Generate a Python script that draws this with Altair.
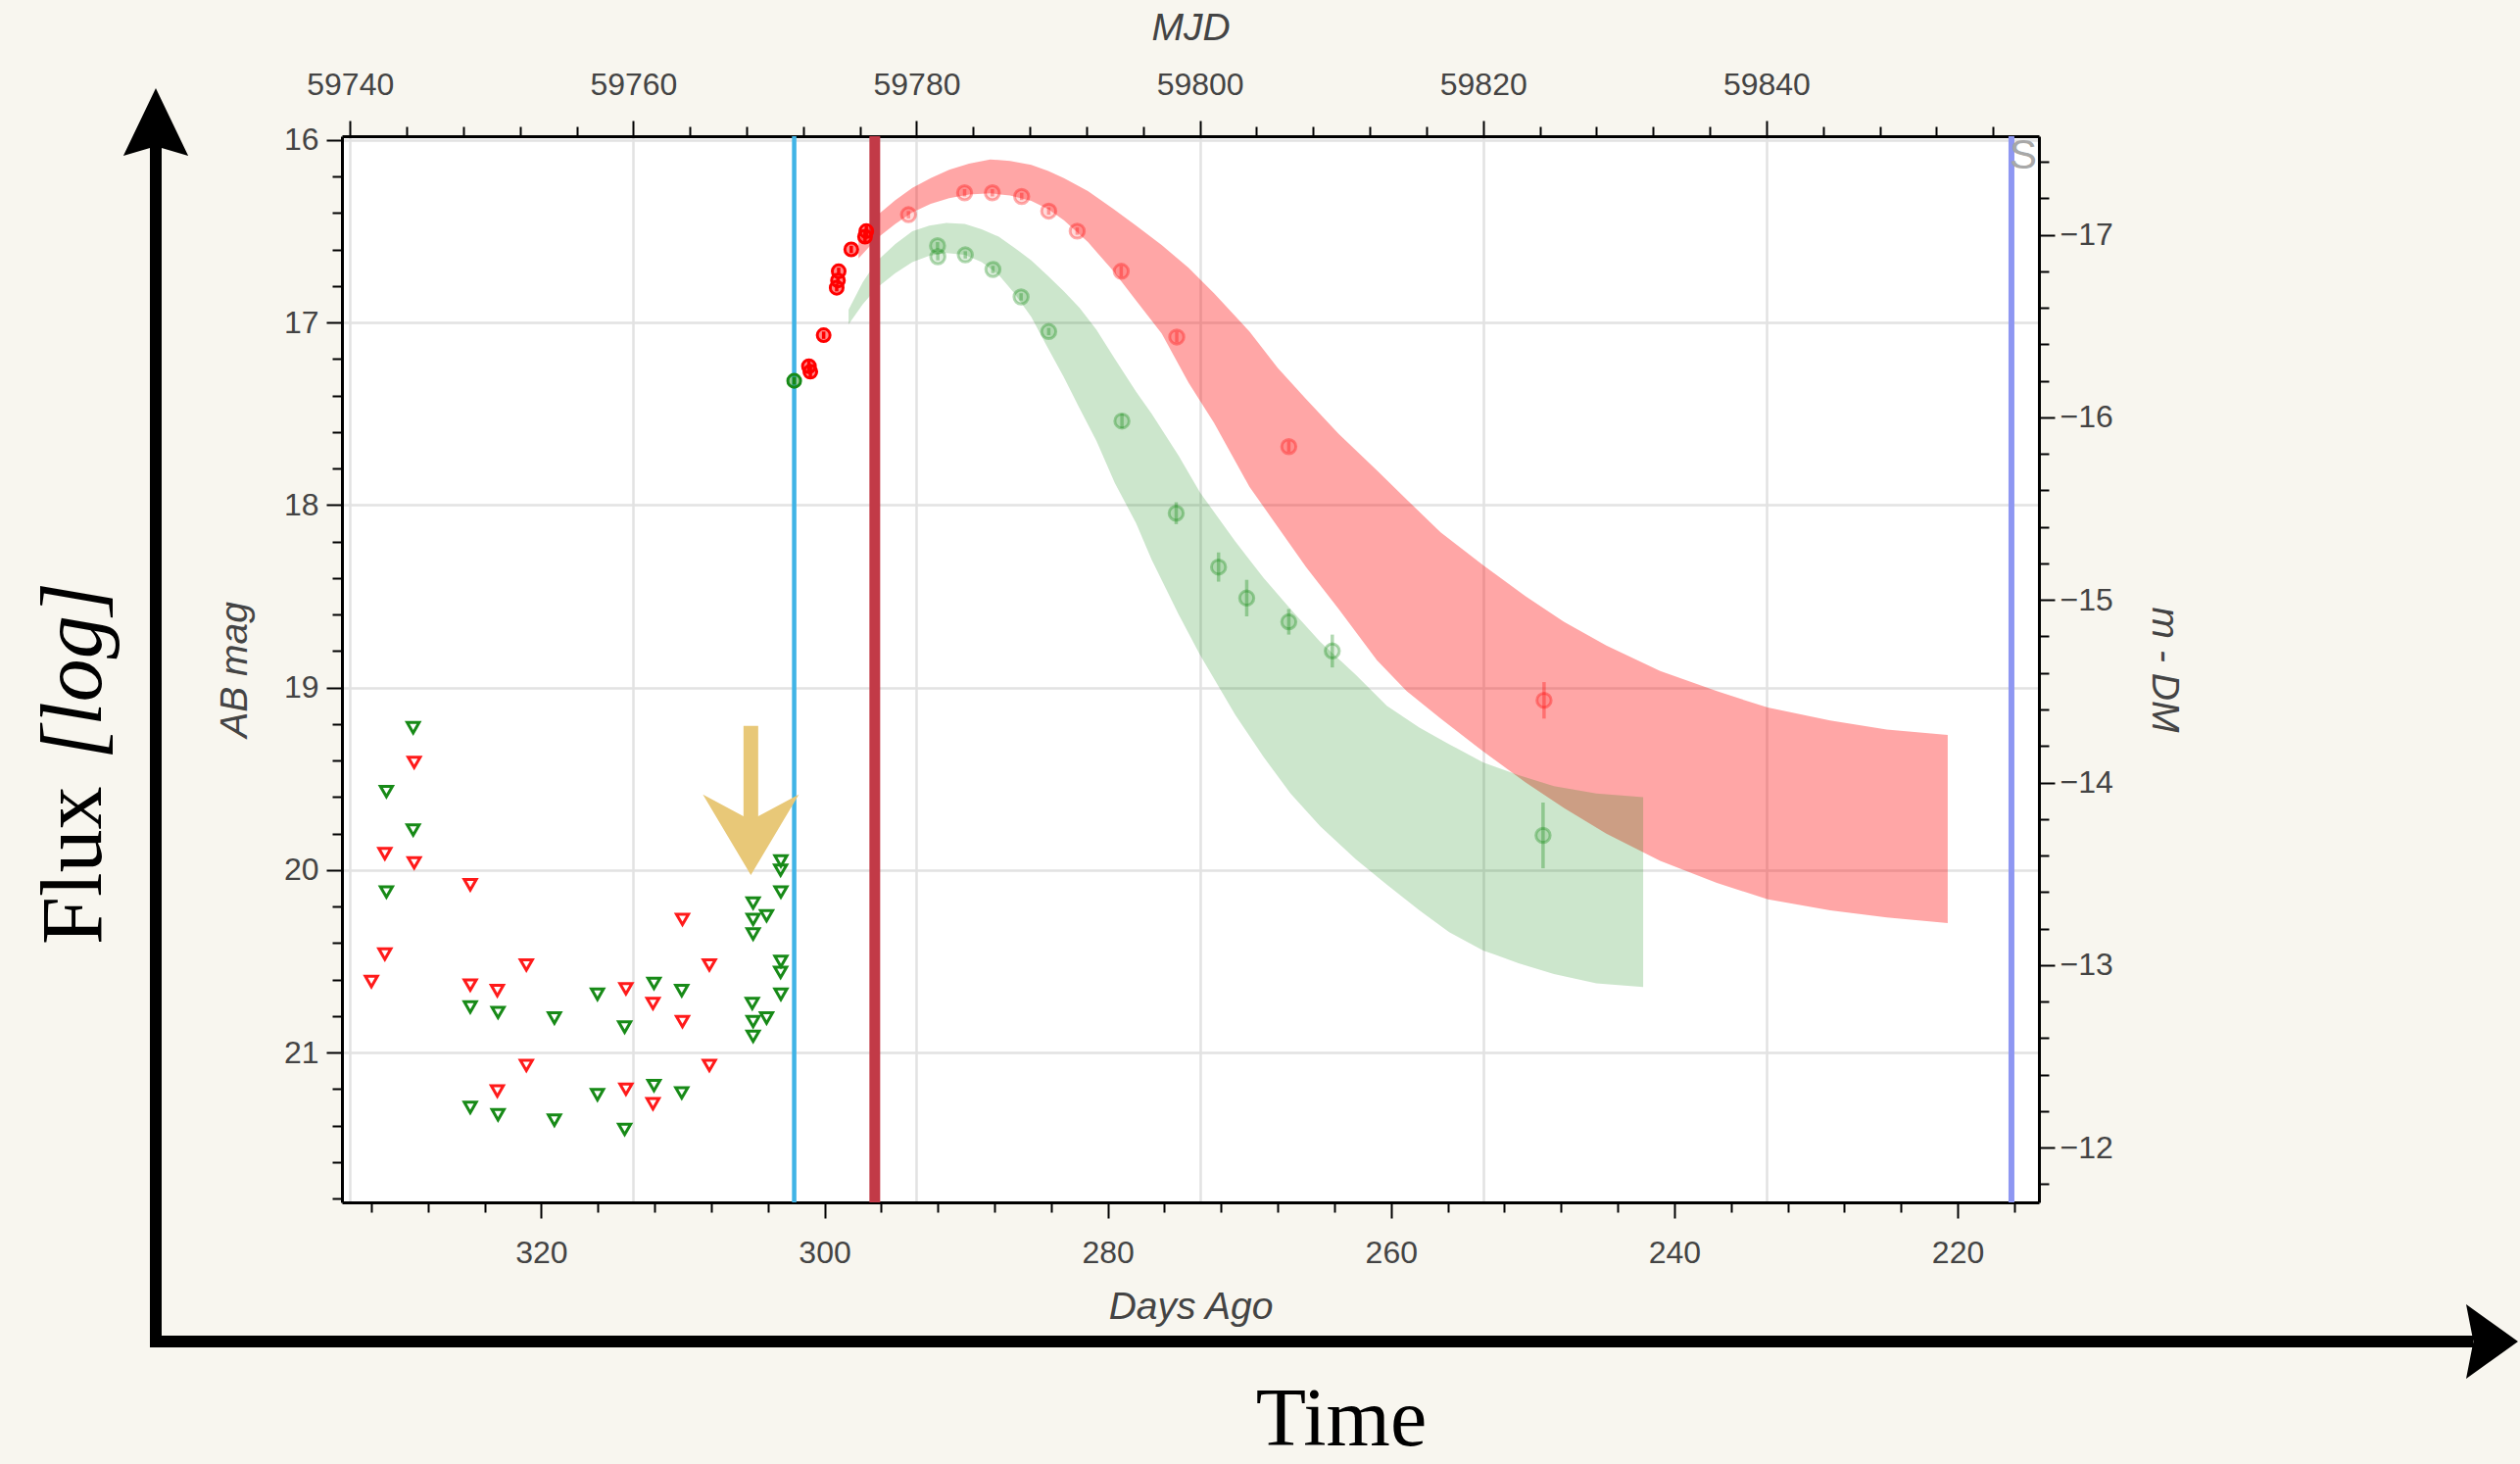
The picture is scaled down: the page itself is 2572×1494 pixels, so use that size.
import altair as alt
import pandas as pd

# ---------------- data ----------------
# upper limits (non-detections): days ago / AB mag
lim_r_days = [328.97, 331.04, 328.97, 325.01, 310.03, 331.04, 321.05, 308.13, 331.99, 325.01,
              323.10, 314.02, 312.11, 310.03, 321.05, 308.13, 323.10, 314.02, 312.11]
lim_r_mag = [19.41, 19.91, 19.96, 20.08, 20.27, 20.46, 20.52, 20.52, 20.61, 20.63,
             20.66, 20.65, 20.73, 20.83, 21.07, 21.07, 21.21, 21.20, 21.28]

lim_g_days = [329.04, 330.93, 329.04, 330.93, 325.01, 323.05, 319.07, 316.03, 314.11, 312.04,
              310.08, 305.04, 305.04, 304.09, 305.04, 303.08, 303.10, 303.08, 305.10, 305.04,
              304.09, 305.04, 303.08, 303.10, 303.08, 325.01, 323.05, 319.07, 316.03, 314.11,
              312.04, 310.08]
lim_g_mag = [19.22, 19.57, 19.78, 20.12, 20.75, 20.78, 20.81, 20.68, 20.86, 20.62,
             20.66, 20.18, 20.27, 20.25, 20.35, 19.95, 20.00, 20.12, 20.73, 20.83,
             20.81, 20.91, 20.50, 20.56, 20.68, 21.30, 21.34, 21.37, 21.23, 21.42,
             21.18, 21.22]

# detections
det_r_days = [301.10, 301.00, 300.06, 299.14, 299.05, 299.00, 298.11, 297.14, 297.05]
det_r_mag = [17.24, 17.27, 17.07, 16.81, 16.77, 16.72, 16.60, 16.53, 16.50]
det_r_err = [0.03, 0.03, 0.02, 0.02, 0.02, 0.02, 0.02, 0.03, 0.03]

late_r_days = [294.07, 290.11, 288.15, 286.08, 284.17, 282.16, 279.05, 275.13, 267.22, 249.20]
late_r_mag = [16.41, 16.29, 16.29, 16.31, 16.39, 16.50, 16.72, 17.08, 17.68, 19.07]
late_r_err = [0.02, 0.02, 0.02, 0.02, 0.02, 0.02, 0.03, 0.03, 0.03, 0.10]

det_g_days = [302.14]
det_g_mag = [17.32]
det_g_err = [0.02]

late_g_days = [292.02, 292.00, 290.06, 288.11, 286.12, 284.17, 279.00, 275.17, 272.18, 270.19,
               267.22, 264.15, 249.27]
late_g_mag = [16.58, 16.64, 16.63, 16.71, 16.86, 17.05, 17.54, 18.045, 18.34, 18.51,
              18.64, 18.80, 19.81]
late_g_err = [0.02, 0.02, 0.02, 0.02, 0.02, 0.02, 0.04, 0.06, 0.08, 0.10,
              0.07, 0.09, 0.18]

# model bands (top edge / bottom edge in mag)
band_r_days = [297.6, 296.3, 295.0, 293.8, 292.5, 291.2, 289.8, 288.3, 286.9, 285.4,
               284.2, 283.1, 281.4, 279.6, 278.0, 276.2, 274.3, 272.5, 270.0, 268.0,
               266.0, 263.7, 261.0, 258.9, 256.5, 253.5, 250.5, 247.8, 244.8, 241.0,
               237.0, 233.4, 229.0, 225.0, 220.7]
band_r_top = [16.55, 16.415, 16.33, 16.263, 16.21, 16.164, 16.13, 16.107, 16.115, 16.137,
              16.17, 16.21, 16.28, 16.379, 16.47, 16.576, 16.70, 16.84, 17.05, 17.25,
              17.42, 17.61, 17.81, 17.97, 18.15, 18.33, 18.50, 18.64, 18.77, 18.91,
              19.02, 19.11, 19.18, 19.23, 19.26]
band_r_bot = [16.65, 16.54, 16.46, 16.397, 16.35, 16.32, 16.30, 16.293, 16.305, 16.334,
              16.38, 16.44, 16.56, 16.72, 16.88, 17.06, 17.33, 17.55, 17.90, 18.12,
              18.34, 18.57, 18.85, 19.02, 19.17, 19.35, 19.52, 19.66, 19.80, 19.95,
              20.07, 20.16, 20.22, 20.26, 20.29]

band_g_days = [298.3, 297.3, 296.3, 295.0, 293.8, 292.6, 291.4, 290.1, 288.9, 287.7,
               286.6, 285.4, 284.3, 283.1, 282.0, 280.8, 279.5, 278.0, 276.9, 275.0,
               273.5, 271.0, 269.0, 267.1, 265.0, 262.5, 260.3, 258.0, 255.9, 253.5,
               251.0, 248.5, 245.5, 242.2]
band_g_top = [16.93, 16.78, 16.665, 16.57, 16.50, 16.47, 16.455, 16.46, 16.49, 16.53,
              16.59, 16.66, 16.74, 16.83, 16.92, 17.04, 17.20, 17.38, 17.50, 17.73,
              17.93, 18.20, 18.40, 18.57, 18.75, 18.93, 19.10, 19.22, 19.31, 19.41,
              19.48, 19.54, 19.58, 19.60]
band_g_bot = [17.01, 16.90, 16.81, 16.73, 16.67, 16.635, 16.62, 16.63, 16.67, 16.74,
              16.84, 16.97, 17.13, 17.30, 17.47, 17.65, 17.88, 18.10, 18.30, 18.60,
              18.82, 19.15, 19.38, 19.58, 19.76, 19.94, 20.08, 20.22, 20.34, 20.44,
              20.51, 20.57, 20.62, 20.64]

# event markers (days ago)
first_det_day = [302.14]
peak_day = [296.45]
spec_day = [216.2]

# axis ticks
bottom_ticks = list(range(332, 214, -4))
top_ticks = list(range(59740, 59860, 4))
left_ticks = [round(16 + 0.2 * i, 1) for i in range(30)]
right_ticks = [round(-17.4 + 0.2 * i, 1) for i in range(29)]

DAYS_DOMAIN = [334.07, 214.26]
MAG_DOMAIN = [15.98, 21.82]
MJD_ZERO = 60073.5   # MJD = MJD_ZERO - days ago
DIST_MOD = 33.52

# ---------------- layout ----------------
W, H = 1732, 1088
PAD = {"left": 349, "top": 139, "right": 2572 - 349 - W, "bottom": 1494 - 139 - H}
BG = "#F8F6EF"
LAB = "#444444"

xsc = alt.Scale(domain=DAYS_DOMAIN, nice=False, zero=False)
ysc = alt.Scale(domain=MAG_DOMAIN, nice=False, zero=False, reverse=True)

common = dict(domainColor="black", domainWidth=3, tickColor="black", tickWidth=2,
              labelColor=LAB, labelFont="Liberation Sans", labelFontSize=32,
              titleFont="Liberation Sans", titleFontSize=39, titleFontStyle="italic",
              titleFontWeight="normal", titleColor=LAB, labelOverlap=False,
              labelFlush=False, gridColor="#E2E2E2", gridWidth=2.5, tickCount=400)

INT_TEST = "abs(datum.value - round(datum.value)) < 0.001"

ax_bottom = alt.Axis(orient="bottom", title="Days Ago", values=bottom_ticks, format="d",
                     labelExpr="datum.value % 20 === 0 ? datum.label : ''",
                     tickSize={"condition": {"test": "datum.value % 20 === 0", "value": 16}, "value": 10},
                     labelPadding=20, titlePadding=20, grid=False, **common)
ax_left = alt.Axis(orient="left", title="AB mag", values=left_ticks, tickMinStep=0.1,
                   labelExpr=f"{INT_TEST} ? format(datum.value, 'd') : ''",
                   tickSize={"condition": {"test": INT_TEST, "value": 16}, "value": 10},
                   gridOpacity={"condition": {"test": INT_TEST, "value": 1}, "value": 0},
                   labelPadding=8, titlePadding=30, grid=True, **common)
ax_top = alt.Axis(orient="top", title="MJD", values=top_ticks, format="d",
                  labelExpr="datum.value % 20 === 0 ? datum.label : ''",
                  tickSize={"condition": {"test": "datum.value % 20 === 0", "value": 16}, "value": 10},
                  gridOpacity={"condition": {"test": "datum.value % 20 === 0", "value": 1}, "value": 0},
                  labelPadding=20, titlePadding=22, grid=True, **common)
ax_right = alt.Axis(orient="right", title="m - DM", values=right_ticks, tickMinStep=0.1,
                    labelExpr=f"{INT_TEST} ? format(datum.value, 'd') : ''",
                    tickSize={"condition": {"test": INT_TEST, "value": 16}, "value": 10},
                    labelPadding=5, titlePadding=32, grid=False, **common)


def X(field):
    return alt.X(field, type="quantitative", scale=xsc, axis=ax_bottom)


def Y(field):
    return alt.Y(field, type="quantitative", scale=ysc, axis=ax_left)


def pts(days, mag, err=None):
    d = pd.DataFrame({"days": days, "mag": mag})
    if err is not None:
        d["lo"] = [m - e for m, e in zip(mag, err)]
        d["hi"] = [m + e for m, e in zip(mag, err)]
    return d


band_r = pd.DataFrame({"days": band_r_days, "top": band_r_top, "bot": band_r_bot})
band_g = pd.DataFrame({"days": band_g_days, "top": band_g_top, "bot": band_g_bot})

layers = []
# bands
layers.append(alt.Chart(band_r).mark_area(color="#FF0000", opacity=0.35).encode(
    x=X("days"), y=Y("top"), y2="bot"))
layers.append(alt.Chart(band_g).mark_area(color="#008000", opacity=0.2).encode(
    x=X("days"), y=Y("top"), y2="bot"))

# vertical event lines
for days, col, w in [(first_det_day, "#41B4E6", 4.5), (peak_day, "#C23A47", 11), (spec_day, "#8E97F2", 6)]:
    layers.append(alt.Chart(pd.DataFrame({"days": days})).mark_rule(color=col, strokeWidth=w).encode(
        x=X("days")))

# "S" label
layers.append(alt.Chart(pd.DataFrame({"days": spec_day, "mag": [16.09], "t": ["S"]})).mark_text(
    align="left", baseline="middle", font="Liberation Sans", fontSize=42, color="#A8A8A8", dx=-2).encode(
    x=X("days"), y=Y("mag"), text="t:N"))

# upper limits
layers.append(alt.Chart(pts(lim_r_days, lim_r_mag)).mark_point(
    shape="triangle-down", filled=False, color="#FF1A1A", strokeWidth=3, size=150, opacity=1).encode(
    x=X("days"), y=Y("mag")))
layers.append(alt.Chart(pts(lim_g_days, lim_g_mag)).mark_point(
    shape="triangle-down", filled=False, color="#178A17", strokeWidth=3, size=150, opacity=1).encode(
    x=X("days"), y=Y("mag")))

# detections: error bars + markers
for days, mag, err, col, op, sz in [
    (late_r_days, late_r_mag, late_r_err, "#FF0000", 0.32, 210),
    (late_g_days, late_g_mag, late_g_err, "#008000", 0.3, 210),
    (det_r_days, det_r_mag, det_r_err, "#FF0000", 1.0, 170),
    (det_g_days, det_g_mag, det_g_err, "#178A17", 1.0, 170),
]:
    d = pts(days, mag, err)
    layers.append(alt.Chart(d).mark_rule(color=col, strokeWidth=3.5, opacity=op).encode(
        x=X("days"), y=Y("lo"), y2="hi"))
    layers.append(alt.Chart(d).mark_point(
        shape="circle", fill=col, fillOpacity=0.45 * op, stroke=col, strokeOpacity=op,
        strokeWidth=3, size=sz).encode(x=X("days"), y=Y("mag")))

# hand-drawn gold arrow pointing at the last non-detection
gold = "#E8C878"
layers.append(alt.Chart(pd.DataFrame({"days": [305.2], "a": [19.21], "b": [19.75]})).mark_rule(
    color=gold, strokeWidth=15).encode(x=X("days"), y=Y("a"), y2="b"))
layers.append(alt.Chart(pd.DataFrame({"days": [305.2], "mag": [19.806]})).mark_point(
    shape="M-1,-0.84 L0,0.84 L1,-0.84 L0,-0.3 Z", filled=True, color=gold, opacity=1, size=9604).encode(
    x=X("days"), y=Y("mag")))

# big schematic axes (Flux vs Time) drawn outside the plot area
one = pd.DataFrame({"k": [0]})
layers.append(alt.Chart(one).mark_rule(color="black", strokeWidth=12).encode(
    x=alt.value(-190), y=alt.value(1236), y2=alt.value(10)))
layers.append(alt.Chart(one).mark_rule(color="black", strokeWidth=12).encode(
    x=alt.value(-196), x2=alt.value(2175), y=alt.value(1230)))
layers.append(alt.Chart(one).mark_point(
    shape="M0,-1 L0.96,1 L0,0.72 L-0.96,1 Z", filled=True, color="black", opacity=1, size=4761).encode(
    x=alt.value(-190), y=alt.value(-14.5)))
layers.append(alt.Chart(one).mark_point(
    shape="M1,0 L-1,-1.43 L-0.72,0 L-1,1.43 Z", filled=True, color="black", opacity=1, size=2809).encode(
    x=alt.value(2194.5), y=alt.value(1230)))
layers.append(alt.Chart(pd.DataFrame({"t": ["Flux"]})).mark_text(
    font="Liberation Serif", fontSize=88, color="black", angle=270, align="left", baseline="alphabetic").encode(
    x=alt.value(-246), y=alt.value(825), text="t:N"))
layers.append(alt.Chart(pd.DataFrame({"t": ["[log]"]})).mark_text(
    font="Liberation Serif", fontSize=88, fontStyle="italic", color="black", angle=270, align="right",
    baseline="alphabetic").encode(x=alt.value(-246), y=alt.value(455), text="t:N"))
layers.append(alt.Chart(pd.DataFrame({"t": ["Time"]})).mark_text(
    font="Liberation Serif", fontSize=84, color="black", align="center", baseline="alphabetic").encode(
    x=alt.value(1020), y=alt.value(1336), text="t:N"))

main = alt.layer(*layers)

# secondary axes: MJD (top) and absolute magnitude m - DM (right)
sec_df = pd.DataFrame({"mjd": [MJD_ZERO - d for d in DAYS_DOMAIN],
                       "absmag": [m - DIST_MOD for m in MAG_DOMAIN]})
sec = alt.Chart(sec_df).mark_point(opacity=0).encode(
    x=alt.X("mjd:Q", scale=alt.Scale(domain=[MJD_ZERO - d for d in DAYS_DOMAIN], nice=False, zero=False),
            axis=ax_top),
    y=alt.Y("absmag:Q", scale=alt.Scale(domain=[m - DIST_MOD for m in MAG_DOMAIN], nice=False, zero=False,
                                        reverse=True), axis=ax_right),
)

chart = alt.layer(main, sec).resolve_scale(x="independent", y="independent").properties(
    width=W, height=H, background=BG, padding=PAD,
    autosize=alt.AutoSizeParams(type="none"),
).configure_view(fill="white", stroke=None)

chart.save("out.html", embed_options={"renderer": "svg", "actions": False})
